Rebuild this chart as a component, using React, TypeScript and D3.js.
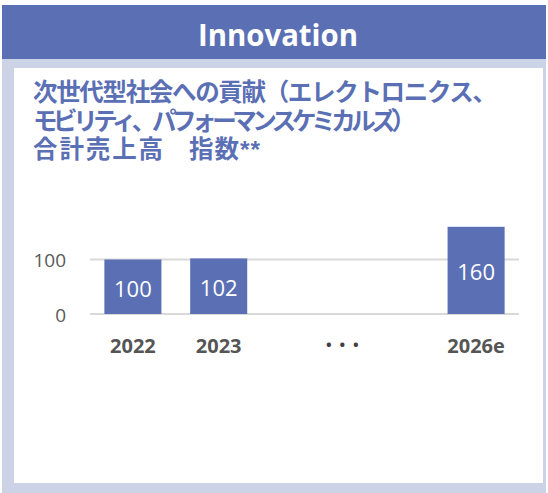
import React from "react";
import * as d3 from "d3";

const categories = ["2022", "2023", "2024", "2025", "2026e"];
const values: (number | null)[] = [100, 102, null, null, 160];
const axisLabels = ["2022", "2023", "", "", "2026e"];
const yTicks = [0, 100];
const titleLines = [
  [{ t: "次世代型社会への貢献（エレクトロニクス、", x: 33, len: 464 }],
  [{ t: "モビリティ、パフォーマンスケミカルズ）", x: 33, len: 383 }],
  [
    { t: "合計売上高", x: 33, len: 130 },
    { t: "指数**", x: 189, len: 71 },
  ],
];

const W = 548;
const H = 493;
const PURPLE = "#5B6FB5";
const LIGHT = "#CDD3E6";

export default function App() {
  const x = d3.scaleBand<string>().domain(categories).range([90, 519]).paddingInner(0.335).paddingOuter(0.1675);
  const y = d3.scaleLinear().domain([0, 100]).range([314, 259.5]);
  const jpFont = "'Liberation Sans', 'Noto Sans CJK JP', sans-serif";
  const latFont = "'Open Sans', 'Noto Sans', sans-serif";
  const dotsX = ((x("2024") as number) + (x("2025") as number) + x.bandwidth()) / 2 - 4;
  return (
    <div style={{ position: "absolute", left: 0, top: 0 }}>
      <svg width={W} height={H} style={{ display: "block" }}>
        <rect x={2} y={59} width={544} height={434} fill={LIGHT} />
        <rect x={2} y={5} width={544} height={54} fill={PURPLE} />
        <rect x={14} y={68} width={529} height={415} fill="#fff" />
        <text x={198} y={46} textLength={160} lengthAdjust="spacingAndGlyphs" fill="#fff" fontFamily={latFont} fontWeight={700} fontSize={31}>
          Innovation
        </text>
        <text fill={PURPLE} fontFamily={jpFont} fontWeight={700} fontSize={24.5}>
          {titleLines.map((line, i) =>
            line.map((seg, j) => (
              <tspan key={`${i}-${j}`} x={seg.x} y={101 + i * 28.5} textLength={seg.len} lengthAdjust="spacing">
                {seg.t}
              </tspan>
            ))
          )}
        </text>
        {yTicks.map((t) => (
          <g key={t}>
            <line x1={90} x2={519} y1={y(t)} y2={y(t)} stroke="#D9D9D9" strokeWidth={2} />
            <text x={66} y={y(t) + 1} dy="0.35em" textAnchor="end" fill="#595959" fontFamily={latFont} fontSize={19}>
              {t}
            </text>
          </g>
        ))}
        {categories.map((c, i) => {
          const v = values[i];
          if (v == null) return null;
          const bx = x(c) as number;
          return (
            <g key={c}>
              <rect x={bx} y={y(v)} width={x.bandwidth()} height={y(0) - y(v)} fill={PURPLE} />
              <text x={bx + x.bandwidth() / 2} y={(y(v) + y(0)) / 2 + 2} dy="0.36em" textAnchor="middle" fill="#fff" fontFamily={latFont} fontSize={22}>
                {v}
              </text>
            </g>
          );
        })}
        {categories.map((c, i) =>
          axisLabels[i] ? (
            <text key={c} x={(x(c) as number) + x.bandwidth() / 2} y={353} textAnchor="middle" fill="#555555" fontFamily={latFont} fontWeight={700} fontSize={20}>
              {axisLabels[i]}
            </text>
          ) : null
        )}
        <text x={dotsX} y={350} textAnchor="middle" fill="#404040" fontFamily={latFont} fontWeight={700} fontSize={15} letterSpacing={2}>
          • • •
        </text>
      </svg>
    </div>
  );
}
